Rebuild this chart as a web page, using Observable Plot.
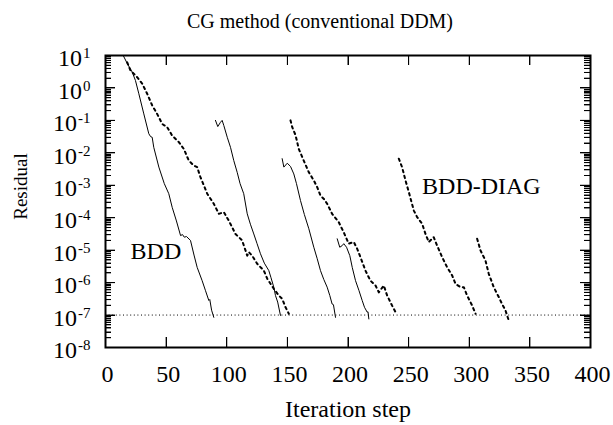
<!DOCTYPE html>
<html><head><meta charset="utf-8">
<script src="https://cdn.jsdelivr.net/npm/d3@7"></script>
<script src="https://cdn.jsdelivr.net/npm/@observablehq/plot@0.6"></script>
<style>
body{margin:0;background:#fff;}
#wrap{position:relative;width:613px;height:425px;overflow:hidden;}
#title{position:absolute;left:0;width:640px;top:11px;text-align:center;font-family:"Liberation Serif",serif;font-size:20px;line-height:20px;color:#000;}
#chart{position:absolute;left:0;top:40px;}
</style></head><body>
<div id="wrap"><div id="title">CG method (conventional DDM)</div><div id="chart"></div></div>
<script>
// tick labels
const xTicks = [0, 50, 100, 150, 200, 250, 300, 350, 400];
const yTickExps = [-8, -7, -6, -5, -4, -3, -2, -1, 0, 1];
const tolerance = [1e-7];
const seriesLabels = ["BDD", "BDD-DIAG"];

// [iteration step, log10(residual)]
const bdd1 = [[14.6,1.0],[18,0.75],[22.0,0.49],[24.7,0.23],[27.5,-0.18],[31.6,-0.80],[35.7,-1.41],[37.2,-1.50],[38.5,-1.52],[39.8,-1.83],[44.0,-2.44],[48.5,-2.95],[52.2,-3.26],[55.0,-3.68],[58.5,-4.10],[61.9,-4.55],[63.5,-4.52],[65.0,-4.60],[66.8,-4.58],[70.1,-4.70],[73,-5.15],[75.6,-5.53],[79.7,-5.94],[82.5,-6.25],[85.2,-6.55],[86,-6.52],[87.5,-6.85],[89.3,-7.07]];
const bdd2 = [[90.7,-1.00],[92.6,-1.19],[94.8,-1.06],[96.2,-1.00],[97.6,-1.16],[100.4,-1.52],[103.1,-1.83],[105.8,-2.24],[108.6,-2.60],[111,-2.95],[114,-3.26],[116.9,-3.88],[119.5,-4.2],[122.3,-4.50],[125,-4.80],[127.8,-5.11],[131,-5.40],[134.7,-5.63],[136.5,-5.85],[138.8,-6.14],[140.2,-6.40],[142,-6.60],[144.3,-7.01]];
const bdd3 = [[145.7,-2.18],[147.1,-2.44],[149.9,-2.32],[152.6,-2.42],[155.3,-2.65],[157.5,-2.95],[160.8,-3.47],[164,-3.90],[167.7,-4.34],[171.8,-4.91],[174.5,-5.25],[177.3,-5.63],[180,-5.90],[182.8,-6.14],[185,-6.40],[186.9,-6.66],[188,-6.68],[189.7,-7.07]];
const bdd4 = [[191.1,-4.65],[193.2,-4.91],[195.2,-4.86],[196.5,-4.80],[198.8,-4.91],[201.5,-5.17],[203.5,-5.53],[206.2,-5.94],[209,-6.24],[211.7,-6.55],[213.6,-6.76],[215.8,-6.91],[216.5,-6.90],[217.2,-7.12]];

const diag1 = [[17.9,0.79],[20.6,0.54],[23.3,0.44],[26.1,0.33],[30.3,0.13],[34.4,-0.18],[38.5,-0.54],[42.6,-0.80],[46.8,-1.11],[50.9,-1.21],[55,-1.47],[60.5,-1.67],[64.6,-1.88],[68.7,-2.24],[72.8,-2.39],[75.6,-2.44],[78.3,-2.75],[81.1,-3.0],[83.9,-3.26],[89.3,-3.57],[93.5,-3.88],[97.6,-3.83],[101.7,-4.09],[107.2,-4.50],[112.7,-4.70],[116.9,-5.17],[118.2,-5.06],[121,-5.17],[125.1,-5.42],[130.6,-5.63],[133.4,-5.88],[138.8,-6.19],[143,-6.40],[145.7,-6.50],[148.5,-6.76],[151.2,-6.96]];
const diag2 = [[152.6,-1.0],[154,-1.21],[156.7,-1.45],[159.4,-1.88],[163.5,-2.24],[167.7,-2.60],[171.8,-2.85],[174.6,-3.06],[177.3,-3.32],[180.1,-3.42],[182.8,-3.57],[186.9,-3.88],[192.4,-4.14],[196.5,-4.45],[200.6,-4.80],[204.8,-4.75],[207.6,-4.96],[210.3,-5.22],[214.4,-5.63],[218.5,-5.94],[222.7,-6.09],[225.4,-6.30],[229.5,-6.09],[232.3,-6.40],[236.4,-6.71],[239.2,-6.91]];
const diag3 = [[241.9,-2.18],[244.6,-2.44],[247.4,-2.85],[250.1,-3.2],[254.3,-3.78],[257,-3.98],[261.2,-4.19],[263.9,-4.50],[266.6,-4.75],[270.7,-4.60],[273.5,-4.86],[277.7,-5.22],[281.8,-5.53],[285.9,-5.78],[288.7,-6.04],[292.8,-6.14],[295.5,-6.14],[298.3,-6.40],[302.4,-6.71],[305.2,-6.96]];
const diag4 = [[306.5,-4.65],[309.3,-5.01],[313.4,-5.32],[316.1,-5.73],[320.2,-6.14],[324.4,-6.45],[327.1,-6.66],[329.9,-6.86],[332.6,-7.17]];

const rows = (cycles) => cycles.flatMap((c, k) => c.map(([it, lg]) => ({iter: it, residual: 10 ** lg, cycle: k})));
const bddRows = rows([bdd1, bdd2, bdd3, bdd4]);
const diagRows = rows([diag1, diag2, diag3, diag4]);

const yMajor = yTickExps.map(e => 10 ** e);
const yMinor = yTickExps.slice(0, -1).flatMap(e => [2,3,4,5,6,7,8,9].map(m => m * 10 ** e));

const W = 613, H = 385, mL = 105, mR = 23, mT = 15, mB = 78;
const frameW = W - mL - mR, frameH = H - mT - mB;
const major = 10, minor = 6;

const chart = Plot.plot({
  width: W,
  height: H,
  marginLeft: mL,
  marginRight: mR,
  marginTop: mT,
  marginBottom: mB,
  style: {fontFamily: "'Liberation Serif', serif", color: "#000", background: "#fff"},
  x: {domain: [0, 400], label: null},
  y: {type: "log", domain: [1e-8, 1e1], label: null},
  marks: [
    Plot.ruleY(tolerance, {stroke: "#000", strokeWidth: 1, strokeDasharray: "1,2.6"}),
    Plot.line(bddRows, {x: "iter", y: "residual", z: "cycle", stroke: "#000", strokeWidth: 1}),
    Plot.line(diagRows, {x: "iter", y: "residual", z: "cycle", stroke: "#000", strokeWidth: 2, strokeDasharray: "2.4,3.6"}),
    // tick labels
    Plot.axisX(xTicks, {anchor: "bottom", tickSize: 0, tickPadding: 17, dx: 2, fontSize: 24, tickFormat: d => String(d), label: null}),
    Plot.axisY(yMajor, {anchor: "left", tickSize: 0, tickPadding: 15, fontSize: 24, dy: 3, tickFormat: d => "10^" + Math.round(Math.log10(d)), label: null}),
    // axis titles
    Plot.text(["Iteration step"], {frameAnchor: "bottom", dy: 62, fontSize: 24, text: d => d, lineAnchor: "middle", textAnchor: "middle"}),
    Plot.text(["Residual"], {frameAnchor: "top-left", dx: -85, dy: 131, fontSize: 19, rotate: -90, text: d => d, lineAnchor: "middle", textAnchor: "middle"}),
    // series labels
    Plot.text([seriesLabels[0]], {x: 41.6, y: 10 ** -5.02, fontSize: 24, text: d => d}),
    Plot.text([seriesLabels[1]], {x: 310, y: 10 ** -3.02, fontSize: 24, text: d => d}),
    Plot.frame({stroke: "#000", strokeWidth: 2}),
    // inward ticks (all four sides)
    Plot.ruleX(xTicks, {x: d => d, stroke: "#000", strokeWidth: 1, insetTop: frameH - major}),
    Plot.ruleX(xTicks, {x: d => d, stroke: "#000", strokeWidth: 1, insetBottom: frameH - major}),
    Plot.ruleY(yMajor, {y: d => d, stroke: "#000", strokeWidth: 1, insetRight: frameW - major}),
    Plot.ruleY(yMajor, {y: d => d, stroke: "#000", strokeWidth: 1, insetLeft: frameW - major}),
    Plot.ruleY(yMinor, {y: d => d, stroke: "#000", strokeWidth: 1, insetRight: frameW - minor}),
    Plot.ruleY(yMinor, {y: d => d, stroke: "#000", strokeWidth: 1, insetLeft: frameW - minor})
  ]
});
document.getElementById("chart").appendChild(chart);

// superscript exponents on the y tick labels
chart.querySelectorAll('g[aria-label="y-axis tick label"] text').forEach(t => {
  const parts = t.textContent.split("^");
  if (parts.length !== 2) return;
  t.textContent = parts[0];
  const ts = document.createElementNS("http://www.w3.org/2000/svg", "tspan");
  ts.setAttribute("dy", "-8");
  ts.setAttribute("dx", "1");
  ts.setAttribute("font-size", "15");
  ts.textContent = parts[1];
  t.appendChild(ts);
});

// inward frame ticks placed with the chart's own scales
try {
  const sx = chart.scale("x"), sy = chart.scale("y");
  const L = mL, R = W - mR, T = mT, B = H - mB;
  const g = d3.select(chart).append("g").attr("aria-label", "frame ticks").attr("stroke", "#000").attr("stroke-width", 1).attr("fill", "none");
  xTicks.forEach(v => {
    const px = Math.round(sx.apply(v)) + 0.5;
    g.append("line").attr("x1", px).attr("x2", px).attr("y1", B).attr("y2", B - major);
    g.append("line").attr("x1", px).attr("x2", px).attr("y1", T).attr("y2", T + major);
  });
  [[yMajor, major], [yMinor, minor]].forEach(([vals, len]) => vals.forEach(v => {
    const py = Math.round(sy.apply(v)) + 0.5;
    g.append("line").attr("x1", L).attr("x2", L + len).attr("y1", py).attr("y2", py);
    g.append("line").attr("x1", R).attr("x2", R - len).attr("y1", py).attr("y2", py);
  }));
} catch (e) {}
</script>
</body></html>
